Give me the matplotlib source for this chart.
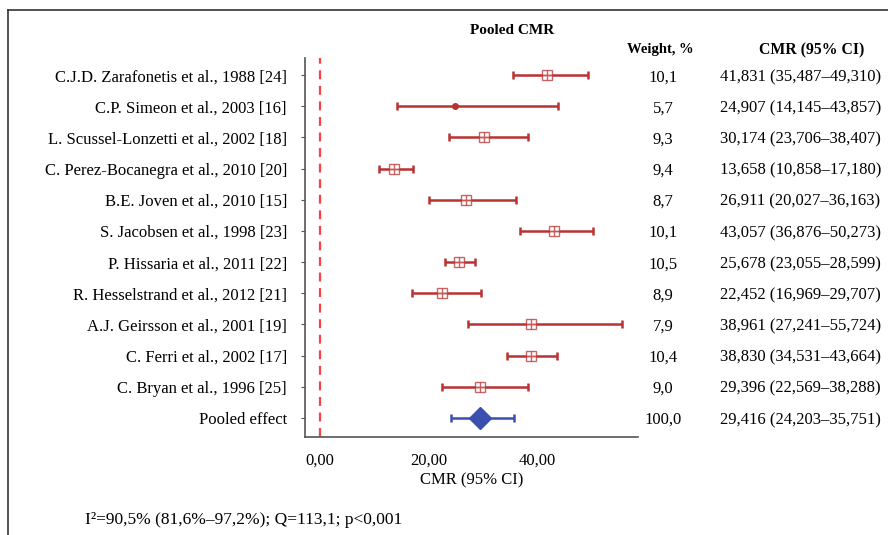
import matplotlib
matplotlib.use("Agg")
import matplotlib.pyplot as plt
import matplotlib.transforms as mtransforms
from matplotlib.lines import Line2D

# данные из рисунка
studies = [
    "C.J.D. Zarafonetis et al., 1988 [24]",
    "C.P. Simeon et al., 2003 [16]",
    "L. Scussel-Lonzetti et al., 2002 [18]",
    "C. Perez-Bocanegra et al., 2010 [20]",
    "B.E. Joven et al., 2010 [15]",
    "S. Jacobsen et al., 1998 [23]",
    "P. Hissaria et al., 2011 [22]",
    "R. Hesselstrand et al., 2012 [21]",
    "A.J. Geirsson et al., 2001 [19]",
    "C. Ferri et al., 2002 [17]",
    "C. Bryan et al., 1996 [25]",
]
cmr = [41.831, 24.907, 30.174, 13.658, 26.911, 43.057, 25.678, 22.452, 38.961, 38.830, 29.396]
ci_low = [35.487, 14.145, 23.706, 10.858, 20.027, 36.876, 23.055, 16.969, 27.241, 34.531, 22.569]
ci_high = [49.310, 43.857, 38.407, 17.180, 36.163, 50.273, 28.599, 29.707, 55.724, 43.664, 38.288]
weights = ["10,1", "5,7", "9,3", "9,4", "8,7", "10,1", "10,5", "8,9", "7,9", "10,4", "9,0"]

pooled_label = "Pooled effect"
pooled_cmr = 29.416
pooled_low = 24.203
pooled_high = 35.751
pooled_weight = "100,0"

x_ticks = [0, 20, 40]


def fmt(v, nd=3):
    return f"{v:.{nd}f}".replace(".", ",")


plt.rcParams["font.family"] = ["Liberation Serif", "DejaVu Serif"]
RED = "#b83232"
BLUE = "#3a4fb0"
FS = 12

fig = plt.figure(figsize=(8.88, 5.35), dpi=100)
ax = fig.add_axes([305 / 888, 1 - 437 / 535, 333 / 888, 379 / 535])

n = len(studies)
ypos = list(range(n, 0, -1))  # 11..1, pooled at 0

for i in range(n):
    y = ypos[i]
    ax.errorbar(cmr[i], y, xerr=[[cmr[i] - ci_low[i]], [ci_high[i] - cmr[i]]],
                fmt="none", ecolor=RED, elinewidth=1.8, capsize=3, capthick=1.8)
    if i == 1:
        ax.plot(cmr[i], y, "o", color=RED, ms=4)
    else:
        ax.plot(cmr[i], y, "s", mfc="white", mec=RED, mew=1.0, ms=7, alpha=0.75)
        ax.plot(cmr[i], y, "+", color=RED, ms=6.5, mew=1.0, alpha=0.75)

ax.errorbar(pooled_cmr, 0, xerr=[[pooled_cmr - pooled_low], [pooled_high - pooled_cmr]],
            fmt="none", ecolor=BLUE, elinewidth=1.8, capsize=3, capthick=1.8)
ax.plot(pooled_cmr, 0, "D", color=BLUE, ms=11)

ax.axvline(0, color="#ff4040", ls=(0, (4, 3)), lw=1.6)

ax.set_xlim(-2.76, 58.6)
ax.set_ylim(-0.61, 11.55)
ax.set_xticks(x_ticks)
ax.set_xticklabels([fmt(v, 2) for v in x_ticks], fontsize=FS)
ax.tick_params(axis="x", length=0, pad=11)
ax.set_yticks(ypos + [0])
ax.set_yticklabels(studies + [pooled_label], fontsize=FS)
ax.tick_params(axis="y", length=3, width=0.8, color="#555555", pad=10)
for s in ["top", "right"]:
    ax.spines[s].set_visible(False)
for s in ["left", "bottom"]:
    ax.spines[s].set_color("#555555")
    ax.spines[s].set_linewidth(1.2)
ax.set_xlabel("CMR (95% CI)", fontsize=FS, labelpad=3)

# столбцы справа
wx = 663 / 888
cx = 720 / 888
blend = mtransforms.blended_transform_factory(fig.transFigure, ax.transData)
for i in range(n):
    ax.text(wx, ypos[i], weights[i], transform=blend, ha="center",
            va="center_baseline", fontsize=FS)
    ax.text(cx, ypos[i], f"{fmt(cmr[i])} ({fmt(ci_low[i])}–{fmt(ci_high[i])})",
            transform=blend, ha="left", va="center_baseline", fontsize=FS)
ax.text(wx, 0, pooled_weight, transform=blend, ha="center", va="center_baseline", fontsize=FS)
ax.text(cx, 0, f"{fmt(pooled_cmr)} ({fmt(pooled_low)}–{fmt(pooled_high)})",
        transform=blend, ha="left", va="center_baseline", fontsize=FS)

fig.text(660 / 888, 1 - 50 / 535, "Weight, %", ha="center", va="center",
         fontsize=10.5, fontweight="bold")
fig.text(812 / 888, 1 - 50 / 535, "CMR (95% CI)", ha="center", va="center",
         fontsize=11.3, fontweight="bold")
fig.text(512 / 888, 1 - 30 / 535, "Pooled CMR", ha="center", va="center",
         fontsize=11, fontweight="bold")
fig.text(85 / 888, 1 - 520 / 535, "I²=90,5% (81,6%–97,2%); Q=113,1; p<0,001",
         ha="left", va="center", fontsize=12.5)

# рамка
fig.add_artist(Line2D([8 / 888, 8 / 888], [0, 1 - 10 / 535], transform=fig.transFigure,
                      color="#333333", lw=1.2))
fig.add_artist(Line2D([8 / 888, 1], [1 - 10 / 535, 1 - 10 / 535], transform=fig.transFigure,
                      color="#333333", lw=1.2))

fig.savefig("out.png", dpi=100)
